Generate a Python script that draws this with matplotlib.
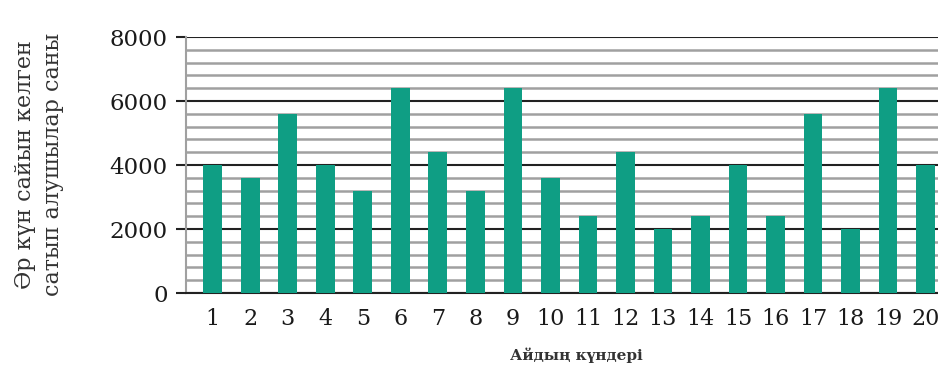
import matplotlib.pyplot as plt
import numpy as np

days = list(range(1, 21))
buyers = [4000, 3600, 5600, 4000, 3200, 6400, 4400, 3200, 6400, 3600,
          2400, 4400, 2000, 2400, 4000, 2400, 5600, 2000, 6400, 4000]
y_ticks = [0, 2000, 4000, 6000, 8000]
y_label = 'Әр күн сайын келген\nсатып алушылар саны'
x_label = 'Айдың күндері'

plt.rcParams['font.family'] = ['DejaVu Serif']

fig = plt.figure(figsize=(9.38, 3.7), dpi=100)
ax = fig.add_axes([0.198, 0.208, 0.802, 0.692])

# grid first so the bars sit on top
ax.set_yticks(np.arange(0, 8001, 400), minor=True)
ax.grid(which='minor', axis='y', color='#a0a0a0', linewidth=1.8)
ax.grid(which='major', axis='y', color='#222222', linewidth=1.5)
ax.set_axisbelow(True)

ax.bar(days, buyers, width=0.5, color='#0f9e84', zorder=3)

ax.set_xlim(0.28, 20.33)
ax.set_ylim(0, 8000)
ax.set_xticks(days)
ax.set_yticks(y_ticks)
ax.tick_params(axis='x', length=0, labelsize=16, pad=11, labelcolor='#1a1a1a')
ax.tick_params(axis='y', which='major', length=7, width=1.5, color='#222222',
               labelsize=16.5, pad=6, labelcolor='#1a1a1a')
ax.tick_params(axis='y', which='minor', length=0)

for s in ['top', 'right']:
    ax.spines[s].set_visible(False)
ax.spines['left'].set_color('#a0a0a0')
ax.spines['left'].set_linewidth(1.5)
ax.spines['bottom'].set_color('#222222')
ax.spines['bottom'].set_linewidth(1.5)

fig.text(0.042, 0.555, y_label, rotation=90, ha='center', va='center',
         fontsize=16, color='#333333', linespacing=1.35)
fig.text(0.614, 0.04, x_label, ha='center', va='center', fontsize=11,
         fontweight='bold', color='#333333')

fig.savefig('out.png', dpi=100)
